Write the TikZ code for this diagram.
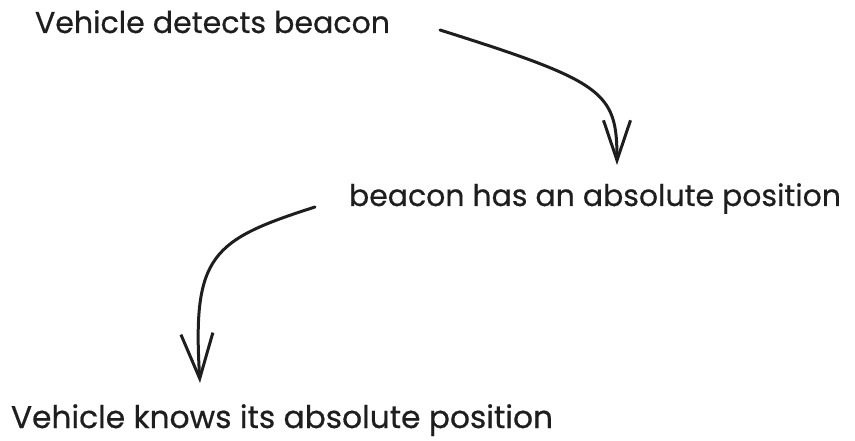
\documentclass[tikz,border=0pt]{standalone}
\usepackage{fontspec}
\setmainfont{Poppins}[FakeBold=0.6]
\usetikzlibrary{arrows.meta,calc}
\definecolor{ink}{HTML}{1E1E1E}
\tikzset{
  label/.style={anchor=base west, inner sep=0pt, outer sep=0pt, text=ink, font=\fontsize{22}{26}\selectfont},
  conn/.style={draw=ink, line width=3pt, line cap=round, line join=round},
}
\begin{document}
\begin{tikzpicture}[x=1pt,y=-1pt]
\useasboundingbox (0,0) rectangle (855,441);
\node[label] (t1) at (35,33) {\resizebox{355pt}{!}{Vehicle detects beacon}};
\node[label] (t2) at (349,206) {\resizebox{492pt}{!}{beacon has an absolute position}};
\node[label] (t3) at (11,428) {\resizebox{542pt}{!}{Vehicle knows its absolute position}};
\coordinate (a1s) at (440,30);
\coordinate (a1e) at (617,165);
\coordinate (a2s) at (315,207);
\coordinate (a2e) at (200,383);
\draw[conn, -{Straight Barb[length=40pt,width=27pt,line width=3pt]}]
  (a1s) .. controls (605,82) and (617,92) .. (a1e);
\draw[conn, -{Straight Barb[length=45pt,width=32pt,line width=3pt]}]
  (a2s) .. controls (212,240) and (192,255) .. (a2e);
\end{tikzpicture}
\end{document}
